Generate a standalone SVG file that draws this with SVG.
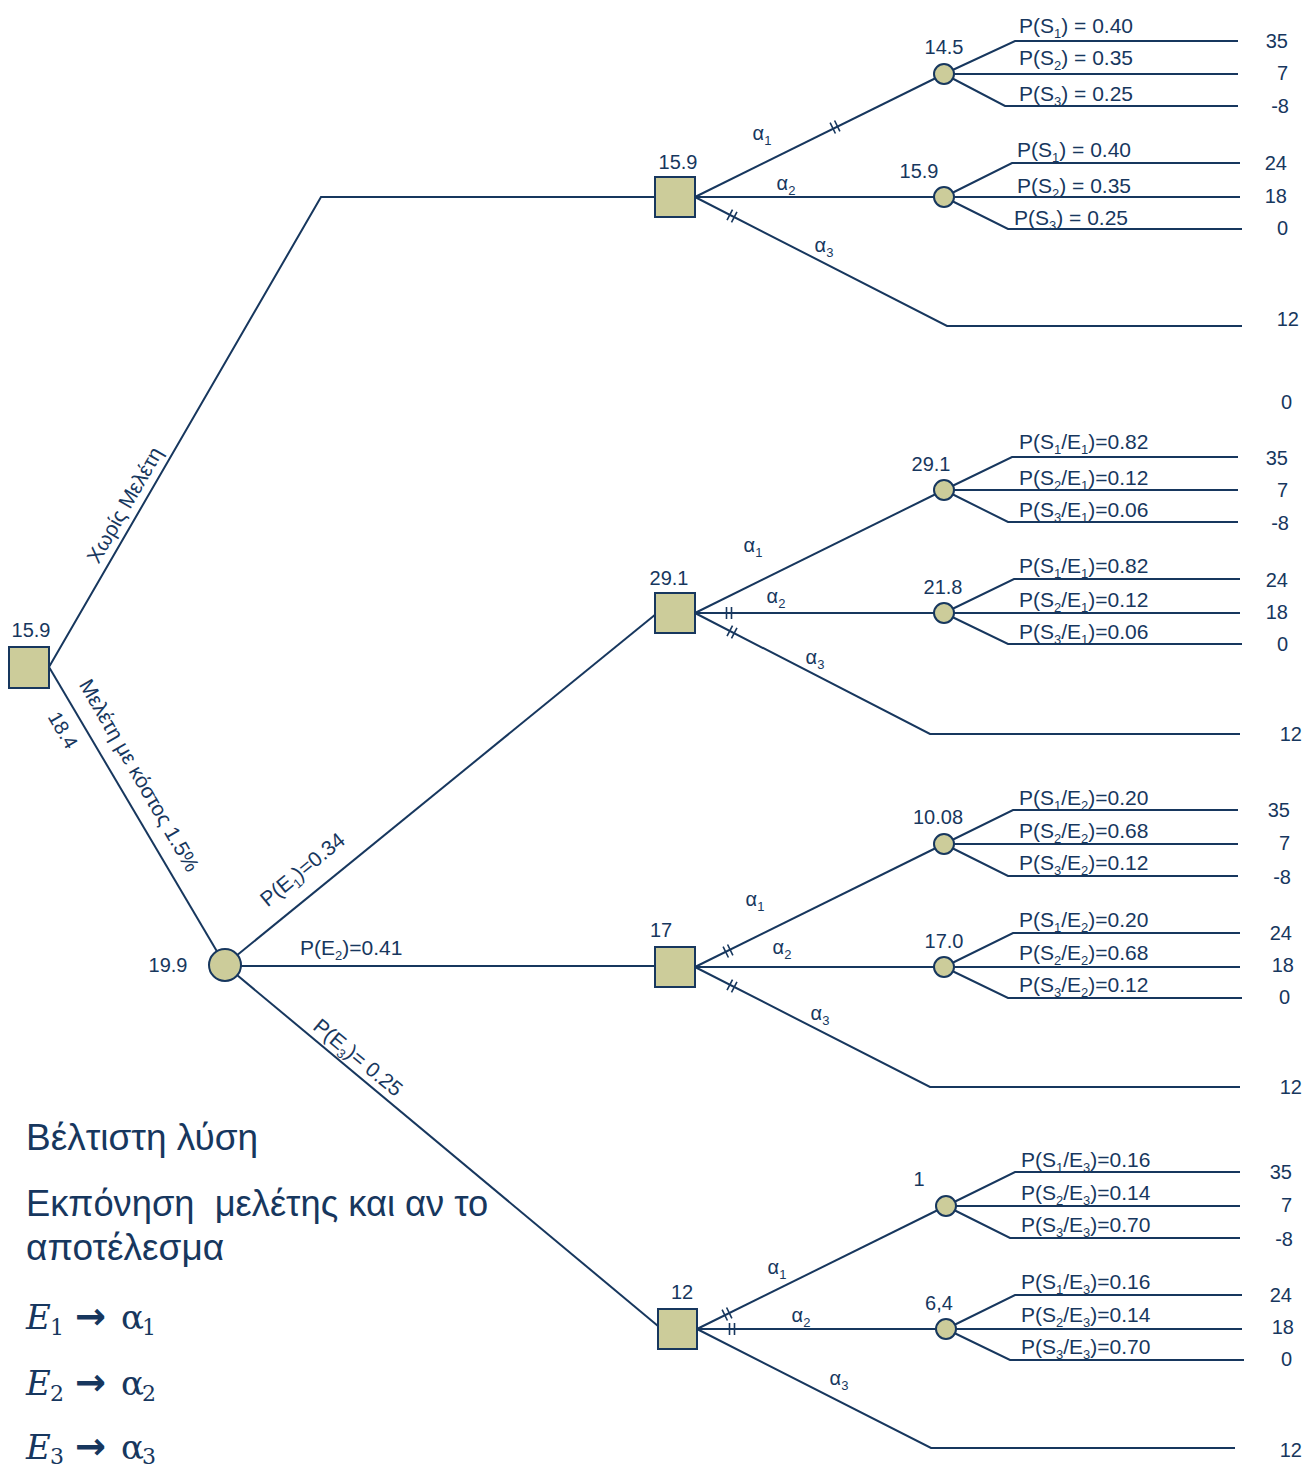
<svg xmlns="http://www.w3.org/2000/svg" xmlns:xlink="http://www.w3.org/1999/xlink" width="1305" height="1468" viewBox="0 0 1305 1468">
<style>
text{font-family:"Liberation Sans",Arial,sans-serif;font-size:20px;fill:#17375e}
.p{font-size:21px}
.s{font-size:13px}
.mid{text-anchor:middle}
.end{text-anchor:end}
.big{font-size:37px}
.big2{font-size:36.3px}
.math{font-family:"DejaVu Serif","Liberation Serif",serif;font-size:34px}
.arrow{font-family:"DejaVu Sans",sans-serif;font-weight:bold;font-size:37px}
.ln{fill:none;stroke:#17375e;stroke-width:2}
.dec{fill:#cccc9a;stroke:#17375e;stroke-width:2}
.chn{fill:#cccc9a;stroke:#17375e;stroke-width:2}
.tk{fill:none;stroke:#17375e;stroke-width:1.6}
</style>
<defs>
<path id="tick" class="tk" d="M-2.5,-6V6M2.5,-6V6"/>
</defs>
<rect width="1305" height="1468" fill="#ffffff"/>

<g id="connectors" class="ln">
<polyline points="49,667 321,197 655,197"/>
<line x1="49" y1="667" x2="225" y2="965"/>
<line x1="225" y1="965" x2="656" y2="614"/>
<line x1="225" y1="966" x2="655" y2="966"/>
<line x1="225" y1="965" x2="658" y2="1326"/>
<!-- top decision -->
<line x1="695" y1="197" x2="944" y2="74"/>
<line x1="695" y1="197" x2="944" y2="197"/>
<polyline points="695,197 947,326 1242,326"/>
<polyline points="944,74 1015,41 1238,41"/>
<line x1="944" y1="74" x2="1238" y2="74"/>
<polyline points="944,74 1005,106 1238,106"/>
<polyline points="944,197 1012,163 1240,163"/>
<line x1="944" y1="197" x2="1240" y2="197"/>
<polyline points="944,197 1008,229 1242,229"/>
<!-- E1 -->
<line x1="695" y1="613" x2="944" y2="490"/>
<line x1="695" y1="613" x2="944" y2="613"/>
<polyline points="695,613 930,734 1240,734"/>
<polyline points="944,490 1012,457 1238,457"/>
<line x1="944" y1="490" x2="1238" y2="490"/>
<polyline points="944,490 1008,522 1238,522"/>
<polyline points="944,613 1014,579 1240,579"/>
<line x1="944" y1="613" x2="1240" y2="613"/>
<polyline points="944,613 1008,644 1242,644"/>
<!-- E2 -->
<line x1="695" y1="967" x2="944" y2="844"/>
<line x1="695" y1="967" x2="944" y2="967"/>
<polyline points="695,967 930,1087 1240,1087"/>
<polyline points="944,844 1013,810 1238,810"/>
<line x1="944" y1="844" x2="1238" y2="844"/>
<polyline points="944,844 1008,876 1238,876"/>
<polyline points="944,967 1013,933 1240,933"/>
<line x1="944" y1="967" x2="1240" y2="967"/>
<polyline points="944,967 1008,998 1242,998"/>
<!-- E3 -->
<line x1="697" y1="1329" x2="946" y2="1206"/>
<line x1="697" y1="1329" x2="946" y2="1329"/>
<polyline points="697,1329 931,1448 1235,1448"/>
<polyline points="946,1206 1015,1172 1240,1172"/>
<line x1="946" y1="1206" x2="1240" y2="1206"/>
<polyline points="946,1206 1010,1238 1240,1238"/>
<polyline points="946,1329 1015,1295 1242,1295"/>
<line x1="946" y1="1329" x2="1242" y2="1329"/>
<polyline points="946,1329 1010,1360 1244,1360"/>
<!-- pruned-branch ticks -->
<use xlink:href="#tick" transform="translate(835,127) rotate(-26.3)"/>
<use xlink:href="#tick" transform="translate(732,216) rotate(27.1)"/>
<use xlink:href="#tick" transform="translate(729,613)"/>
<use xlink:href="#tick" transform="translate(732,632) rotate(27.2)"/>
<use xlink:href="#tick" transform="translate(728,951) rotate(-26.3)"/>
<use xlink:href="#tick" transform="translate(732,986) rotate(27.1)"/>
<use xlink:href="#tick" transform="translate(727,1314) rotate(-26.3)"/>
<use xlink:href="#tick" transform="translate(732,1329)"/>
</g>

<!-- branch labels -->
<g id="branch-labels">
<text transform="translate(131,508.5) rotate(-60)" class="mid p">Χωρίς Μελέτη</text>
<text transform="translate(133,779) rotate(60)" class="mid p">Μελέτη με κόστος 1.5%</text>
<text transform="translate(57,733.5) rotate(60)" class="mid">18.4</text>
<text transform="translate(307,875) rotate(-39.3)" class="mid p">P(E<tspan class="s" dy="5">1</tspan><tspan dy="-5">)=0.34</tspan></text>
<text x="300" y="955" class="p">P(E<tspan class="s" dy="5">2</tspan><tspan dy="-5">)=0.41</tspan></text>
<text transform="translate(353.5,1063) rotate(39.6)" class="mid p">P(E<tspan class="s" dy="5">3</tspan><tspan dy="-5">)= 0.25</tspan></text>

<text x="762" y="140" class="mid">α<tspan class="s" dy="5">1</tspan></text>
<text x="786" y="190" class="mid">α<tspan class="s" dy="5">2</tspan></text>
<text x="824" y="252" class="mid">α<tspan class="s" dy="5">3</tspan></text>
<text x="753" y="552" class="mid">α<tspan class="s" dy="5">1</tspan></text>
<text x="776" y="603" class="mid">α<tspan class="s" dy="5">2</tspan></text>
<text x="815" y="664" class="mid">α<tspan class="s" dy="5">3</tspan></text>
<text x="755" y="906" class="mid">α<tspan class="s" dy="5">1</tspan></text>
<text x="782" y="954" class="mid">α<tspan class="s" dy="5">2</tspan></text>
<text x="820" y="1020" class="mid">α<tspan class="s" dy="5">3</tspan></text>
<text x="777" y="1274" class="mid">α<tspan class="s" dy="5">1</tspan></text>
<text x="801" y="1322" class="mid">α<tspan class="s" dy="5">2</tspan></text>
<text x="839" y="1385" class="mid">α<tspan class="s" dy="5">3</tspan></text>

<!-- probability labels -->
<text x="1019" y="33" class="p">P(S<tspan class="s" dy="5">1</tspan><tspan dy="-5">) = 0.40</tspan></text>
<text x="1019" y="65" class="p">P(S<tspan class="s" dy="5">2</tspan><tspan dy="-5">) = 0.35</tspan></text>
<text x="1019" y="101" class="p">P(S<tspan class="s" dy="5">3</tspan><tspan dy="-5">) = 0.25</tspan></text>
<text x="1017" y="157" class="p">P(S<tspan class="s" dy="5">1</tspan><tspan dy="-5">) = 0.40</tspan></text>
<text x="1017" y="193" class="p">P(S<tspan class="s" dy="5">2</tspan><tspan dy="-5">) = 0.35</tspan></text>
<text x="1014" y="225" class="p">P(S<tspan class="s" dy="5">3</tspan><tspan dy="-5">) = 0.25</tspan></text>

<text x="1019" y="449" class="p">P(S<tspan class="s" dy="5">1</tspan><tspan dy="-5">/E</tspan><tspan class="s" dy="5">1</tspan><tspan dy="-5">)=0.82</tspan></text>
<text x="1019" y="485" class="p">P(S<tspan class="s" dy="5">2</tspan><tspan dy="-5">/E</tspan><tspan class="s" dy="5">1</tspan><tspan dy="-5">)=0.12</tspan></text>
<text x="1019" y="517" class="p">P(S<tspan class="s" dy="5">3</tspan><tspan dy="-5">/E</tspan><tspan class="s" dy="5">1</tspan><tspan dy="-5">)=0.06</tspan></text>
<text x="1019" y="573" class="p">P(S<tspan class="s" dy="5">1</tspan><tspan dy="-5">/E</tspan><tspan class="s" dy="5">1</tspan><tspan dy="-5">)=0.82</tspan></text>
<text x="1019" y="607" class="p">P(S<tspan class="s" dy="5">2</tspan><tspan dy="-5">/E</tspan><tspan class="s" dy="5">1</tspan><tspan dy="-5">)=0.12</tspan></text>
<text x="1019" y="639" class="p">P(S<tspan class="s" dy="5">3</tspan><tspan dy="-5">/E</tspan><tspan class="s" dy="5">1</tspan><tspan dy="-5">)=0.06</tspan></text>

<text x="1019" y="805" class="p">P(S<tspan class="s" dy="5">1</tspan><tspan dy="-5">/E</tspan><tspan class="s" dy="5">2</tspan><tspan dy="-5">)=0.20</tspan></text>
<text x="1019" y="838" class="p">P(S<tspan class="s" dy="5">2</tspan><tspan dy="-5">/E</tspan><tspan class="s" dy="5">2</tspan><tspan dy="-5">)=0.68</tspan></text>
<text x="1019" y="870" class="p">P(S<tspan class="s" dy="5">3</tspan><tspan dy="-5">/E</tspan><tspan class="s" dy="5">2</tspan><tspan dy="-5">)=0.12</tspan></text>
<text x="1019" y="927" class="p">P(S<tspan class="s" dy="5">1</tspan><tspan dy="-5">/E</tspan><tspan class="s" dy="5">2</tspan><tspan dy="-5">)=0.20</tspan></text>
<text x="1019" y="960" class="p">P(S<tspan class="s" dy="5">2</tspan><tspan dy="-5">/E</tspan><tspan class="s" dy="5">2</tspan><tspan dy="-5">)=0.68</tspan></text>
<text x="1019" y="992" class="p">P(S<tspan class="s" dy="5">3</tspan><tspan dy="-5">/E</tspan><tspan class="s" dy="5">2</tspan><tspan dy="-5">)=0.12</tspan></text>

<text x="1021" y="1167" class="p">P(S<tspan class="s" dy="5">1</tspan><tspan dy="-5">/E</tspan><tspan class="s" dy="5">3</tspan><tspan dy="-5">)=0.16</tspan></text>
<text x="1021" y="1200" class="p">P(S<tspan class="s" dy="5">2</tspan><tspan dy="-5">/E</tspan><tspan class="s" dy="5">3</tspan><tspan dy="-5">)=0.14</tspan></text>
<text x="1021" y="1232" class="p">P(S<tspan class="s" dy="5">3</tspan><tspan dy="-5">/E</tspan><tspan class="s" dy="5">3</tspan><tspan dy="-5">)=0.70</tspan></text>
<text x="1021" y="1289" class="p">P(S<tspan class="s" dy="5">1</tspan><tspan dy="-5">/E</tspan><tspan class="s" dy="5">3</tspan><tspan dy="-5">)=0.16</tspan></text>
<text x="1021" y="1322" class="p">P(S<tspan class="s" dy="5">2</tspan><tspan dy="-5">/E</tspan><tspan class="s" dy="5">3</tspan><tspan dy="-5">)=0.14</tspan></text>
<text x="1021" y="1354" class="p">P(S<tspan class="s" dy="5">3</tspan><tspan dy="-5">/E</tspan><tspan class="s" dy="5">3</tspan><tspan dy="-5">)=0.70</tspan></text>
</g>

<!-- payoffs -->
<g id="payoffs">
<text x="1288" y="48" class="end">35</text>
<text x="1288" y="80" class="end">7</text>
<text x="1289" y="113" class="end">-8</text>
<text x="1287" y="170" class="end">24</text>
<text x="1287" y="203" class="end">18</text>
<text x="1288" y="235" class="end">0</text>
<text x="1299" y="326" class="end">12</text>
<text x="1292" y="409" class="end">0</text>
<text x="1288" y="465" class="end">35</text>
<text x="1288" y="497" class="end">7</text>
<text x="1289" y="530" class="end">-8</text>
<text x="1288" y="587" class="end">24</text>
<text x="1288" y="619" class="end">18</text>
<text x="1288" y="651" class="end">0</text>
<text x="1302" y="741" class="end">12</text>
<text x="1290" y="817" class="end">35</text>
<text x="1290" y="850" class="end">7</text>
<text x="1291" y="884" class="end">-8</text>
<text x="1292" y="940" class="end">24</text>
<text x="1294" y="972" class="end">18</text>
<text x="1290" y="1004" class="end">0</text>
<text x="1302" y="1094" class="end">12</text>
<text x="1292" y="1179" class="end">35</text>
<text x="1292" y="1212" class="end">7</text>
<text x="1293" y="1246" class="end">-8</text>
<text x="1292" y="1302" class="end">24</text>
<text x="1294" y="1334" class="end">18</text>
<text x="1292" y="1366" class="end">0</text>
<text x="1302" y="1457" class="end">12</text>
</g>

<!-- nodes -->
<g id="n-root"><rect class="dec" x="9" y="647" width="40" height="41"/><text x="31" y="637" class="mid">15.9</text></g>
<g id="n-study"><circle class="chn" cx="225" cy="965" r="16"/><text x="168" y="972" class="mid">19.9</text></g>
<g id="n-d0"><rect class="dec" x="655" y="177" width="40" height="40"/><text x="678" y="169" class="mid">15.9</text></g>
<g id="n-d0a1"><circle class="chn" cx="944" cy="74" r="10"/><text x="944" y="54" class="mid">14.5</text></g>
<g id="n-d0a2"><circle class="chn" cx="944" cy="197" r="10"/><text x="919" y="178" class="mid">15.9</text></g>
<g id="n-d1"><rect class="dec" x="655" y="593" width="40" height="40"/><text x="669" y="585" class="mid">29.1</text></g>
<g id="n-d1a1"><circle class="chn" cx="944" cy="490" r="10"/><text x="931" y="471" class="mid">29.1</text></g>
<g id="n-d1a2"><circle class="chn" cx="944" cy="613" r="10"/><text x="943" y="594" class="mid">21.8</text></g>
<g id="n-d2"><rect class="dec" x="655" y="947" width="40" height="40"/><text x="661" y="937" class="mid">17</text></g>
<g id="n-d2a1"><circle class="chn" cx="944" cy="844" r="10"/><text x="938" y="824" class="mid">10.08</text></g>
<g id="n-d2a2"><circle class="chn" cx="944" cy="967" r="10"/><text x="944" y="948" class="mid">17.0</text></g>
<g id="n-d3"><rect class="dec" x="658" y="1309" width="39" height="40"/><text x="682" y="1299" class="mid">12</text></g>
<g id="n-d3a1"><circle class="chn" cx="946" cy="1206" r="10"/><text x="919" y="1186" class="mid">1</text></g>
<g id="n-d3a2"><circle class="chn" cx="946" cy="1329" r="10"/><text x="939" y="1310" class="mid">6,4</text></g>

<!-- summary -->
<g id="summary">
<text x="26" y="1150" class="big">Βέλτιστη λύση</text>
<text x="26" y="1216" class="big2">Εκπόνηση&#160; μελέτης και αν το</text>
<text x="26" y="1260" class="big">αποτέλεσμα</text>
<text class="math" y="1329"><tspan x="26" font-style="italic">E</tspan><tspan x="50" dy="6" font-size="22">1</tspan></text>
<text class="arrow" x="75" y="1329">→</text>
<text class="math" y="1329"><tspan x="121">α</tspan><tspan x="142" dy="6" font-size="22">1</tspan></text>
<text class="math" y="1395"><tspan x="26" font-style="italic">E</tspan><tspan x="50" dy="6" font-size="22">2</tspan></text>
<text class="arrow" x="75" y="1395">→</text>
<text class="math" y="1395"><tspan x="121">α</tspan><tspan x="142" dy="6" font-size="22">2</tspan></text>
<text class="math" y="1459"><tspan x="26" font-style="italic">E</tspan><tspan x="50" dy="5" font-size="22">3</tspan></text>
<text class="arrow" x="75" y="1459">→</text>
<text class="math" y="1459"><tspan x="121">α</tspan><tspan x="142" dy="5" font-size="22">3</tspan></text>
</g>
</svg>
